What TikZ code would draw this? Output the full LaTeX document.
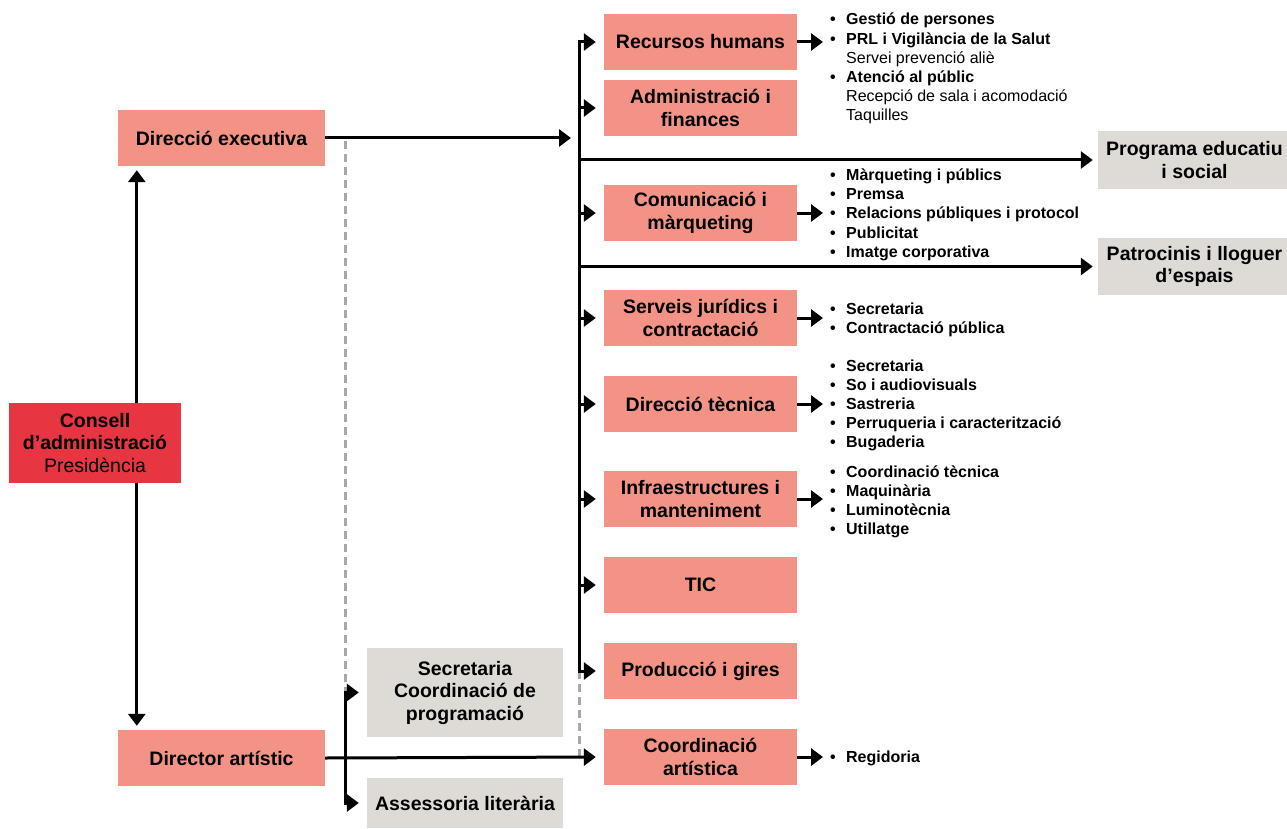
\documentclass[tikz,border=0pt]{standalone}
\usepackage{fontspec}
\setmainfont{Liberation Sans}
\usetikzlibrary{arrows.meta}

\definecolor{salmo}{HTML}{F29386}
\definecolor{vermell}{HTML}{E83542}
\definecolor{grisclar}{HTML}{DEDBD6}
\definecolor{grisdash}{HTML}{A8A8A8}

\newcommand{\vinyeta}{\makebox[16pt][l]{•}}
\newcommand{\sagnat}{\hspace*{16pt}}

\tikzset{
  caixa/.style={fill=salmo, inner sep=0pt, minimum width=193pt, minimum height=56pt,
    align=center, font=\fontsize{19.5}{22.5}\selectfont\bfseries},
  caixagris/.style={caixa, fill=grisclar},
  llista/.style={anchor=base west, inner sep=0pt, align=left,
    font=\fontsize{16}{19.2}\selectfont\bfseries},
  fletxa/.style={line width=3pt, -{Triangle[length=12pt,width=17pt]}, shorten >=7pt},
  doble/.style={line width=3pt, {Triangle[length=12pt,width=17pt]}-{Triangle[length=12pt,width=17pt]},
    shorten >=4pt, shorten <=4pt},
  discont/.style={line width=3pt, grisdash, dash pattern=on 8pt off 5pt},
}

\begin{document}
\begin{tikzpicture}[x=1pt, y=-1pt]
\useasboundingbox (0,0) rectangle (1287,829);

% left column
\node[caixa, minimum width=207pt] (dexec) at (221.5,138) {Direcció executiva};
\node[caixa, minimum width=207pt] (dart) at (221.5,758) {Director artístic};
\draw[doble] ([xshift=19pt]dexec.south west) -- ([xshift=19pt]dart.north west);
\node[caixa, fill=vermell, minimum width=172pt, minimum height=80pt] (consell) at (95,443)
  {Consell\\d’administració\\{\mdseries Presidència}};

% departments
\node[caixa] (rh) at (700.5,42) {Recursos humans};
\node[caixa] (adm) at (700.5,108) {Administració i\\finances};
\node[caixa] (com) at (700.5,213) {Comunicació i\\màrqueting};
\node[caixa] (jur) at (700.5,318) {Serveis jurídics i\\contractació};
\node[caixa] (tec) at (700.5,404) {Direcció tècnica};
\node[caixa] (inf) at (700.5,499) {Infraestructures i\\manteniment};
\node[caixa] (tic) at (700.5,585) {TIC};
\node[caixa] (prod) at (700.5,671) {Producció i gires};
\node[caixa] (cart) at (700.5,757) {Coordinació\\artística};

\node[caixagris, minimum height=58pt] (prog) at (1194.5,160) {Programa educatiu\\i social};
\node[caixagris, minimum height=57pt] (patr) at (1194.5,266.5) {Patrocinis i lloguer\\d’espais};
\node[caixagris, minimum width=196pt, minimum height=89pt] (secr) at (465,692.5)
  {Secretaria\\Coordinació de\\programació};
\node[caixagris, minimum width=196pt, minimum height=50pt] (asse) at (465,803) {Assessoria literària};

% lists (base = last line)
\node[llista] (llrh) at (830,121) {\vinyeta Gestió de persones\\
  \vinyeta PRL i Vigilància de la Salut\\
  \mdseries\sagnat Servei prevenció aliè\\
  \vinyeta Atenció al públic\\
  \mdseries\sagnat Recepció de sala i acomodació\\
  \mdseries\sagnat Taquilles};
\node[llista] (llcom) at (830,257.3) {\vinyeta Màrqueting i públics\\
  \vinyeta Premsa\\
  \vinyeta Relacions públiques i protocol\\
  \vinyeta Publicitat\\
  \vinyeta Imatge corporativa};
\node[llista] (lljur) at (830,333.2) {\vinyeta Secretaria\\
  \vinyeta Contractació pública};
\node[llista] (lltec) at (830,447.8) {\vinyeta Secretaria\\
  \vinyeta So i audiovisuals\\
  \vinyeta Sastreria\\
  \vinyeta Perruqueria i caracterització\\
  \vinyeta Bugaderia};
\node[llista] (llinf) at (830,534.6) {\vinyeta Coordinació tècnica\\
  \vinyeta Maquinària\\
  \vinyeta Luminotècnia\\
  \vinyeta Utillatge};
\node[llista] (llcart) at (830,762) {\vinyeta Regidoria};

% connectors
\coordinate (bus) at (579,0);
\coordinate (guia) at (345,0);
\draw[discont] ([yshift=-3pt]guia |- dexec.east) -- (guia |- secr.west);
\draw[discont] (bus |- prod.west) -- (bus |- cart.west);
\draw[fletxa, shorten >=8pt] (dexec.east) -- (bus |- dexec.east);
\draw[doble, shorten <=8pt, shorten >=8pt] (rh.west) -- (bus |- rh.west) -- (bus |- prod.west) -- (prod.west);
\foreach \n in {adm,com,jur,tec,inf,tic}
  \draw[fletxa, shorten >=8pt] (bus |- \n.west) -- (\n.west);
\draw[fletxa, shorten >=5pt] (bus |- prog.west) -- (prog.west);
\draw[fletxa, shorten >=5pt] (bus |- patr.west) -- (patr.west);
\draw[fletxa, shorten >=8pt] (dart.east) -- (cart.west);
\draw[doble, shorten <=8pt, shorten >=8pt] (secr.west) -- (guia |- secr.west) -- (guia |- asse.west) -- (asse.west);
\foreach \c/\l in {rh/llrh, com/llcom, jur/lljur, tec/lltec, inf/llinf, cart/llcart}
  \draw[fletxa] (\c.east) -- (\l.west |- \c.east);
\end{tikzpicture}
\end{document}
